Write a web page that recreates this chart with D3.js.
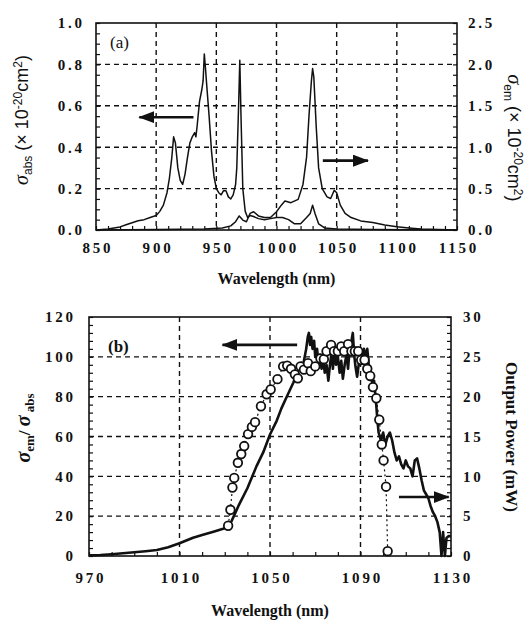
<!DOCTYPE html>
<html lang="en">
<head>
<meta charset="utf-8">
<title>Yb cross sections and output power</title>
<style>
  body { margin: 0; background: #fff; }
  svg { display: block; }
  .tick text { font-family: "Liberation Serif", serif; font-weight: bold; font-size: 15px; letter-spacing: 2.8px; fill: #111; }
  .grid line { stroke: #111; stroke-width: 1.4; stroke-dasharray: 5,4; }
</style>
</head>
<body>
<script src="https://cdn.jsdelivr.net/npm/d3@7"></script>
<script>
// ---- panel (a) data: absorption (left axis) and emission (right axis) cross sections
const absWave = [850, 860, 870, 875, 880, 885, 890, 895, 900, 903, 906, 909, 911, 913, 914.5, 916, 918, 920, 922, 924, 926, 928, 930, 932, 933, 934, 936, 938, 939, 940, 941, 942, 944, 946, 948, 950, 952, 954, 956, 958, 960, 962, 964, 966, 967, 968.5, 969.5, 970.5, 972, 974, 976, 978, 981, 985, 990, 995, 1000, 1005, 1010, 1015, 1020, 1025, 1028, 1030, 1032, 1035, 1040, 1050, 1080, 1150];
const absVal  = [0, 0.005, 0.015, 0.025, 0.035, 0.045, 0.05, 0.06, 0.07, 0.09, 0.12, 0.18, 0.25, 0.35, 0.45, 0.42, 0.3, 0.24, 0.22, 0.27, 0.35, 0.42, 0.45, 0.47, 0.45, 0.5, 0.62, 0.68, 0.72, 0.85, 0.78, 0.7, 0.55, 0.38, 0.26, 0.2, 0.18, 0.17, 0.19, 0.19, 0.16, 0.15, 0.17, 0.22, 0.3, 0.6, 0.82, 0.55, 0.2, 0.09, 0.06, 0.07, 0.065, 0.055, 0.05, 0.055, 0.06, 0.06, 0.05, 0.03, 0.03, 0.06, 0.08, 0.12, 0.08, 0.03, 0.01, 0.005, 0.002, 0];
const emWave = [850, 900, 940, 955, 962, 966, 969, 972, 975, 978, 981, 985, 990, 995, 1000, 1004, 1007, 1012, 1018, 1022, 1025, 1027, 1029, 1030, 1031, 1033, 1035, 1038, 1042, 1045, 1048, 1050, 1053, 1057, 1062, 1070, 1080, 1090, 1100, 1110, 1120, 1150];
const emVal  = [0, 0.005, 0.012, 0.025, 0.05, 0.1, 0.17, 0.12, 0.1, 0.2, 0.22, 0.17, 0.15, 0.15, 0.22, 0.3, 0.35, 0.33, 0.37, 0.55, 0.88, 1.38, 1.8, 1.95, 1.85, 1.25, 0.75, 0.5, 0.4, 0.38, 0.48, 0.45, 0.3, 0.2, 0.15, 0.11, 0.09, 0.06, 0.04, 0.025, 0.012, 0];

// ---- panel (b) data: cross-section ratio (left axis) and output power (right axis)
const ratioWave = [970, 975, 980, 985, 990, 995, 1000, 1005, 1010, 1013, 1016, 1020, 1025, 1030, 1031.5, 1033, 1036, 1040, 1044, 1047, 1050, 1053, 1055, 1057.4, 1060.3, 1061, 1062, 1063, 1064, 1064.5, 1065, 1066, 1066.7, 1067.2, 1067.7, 1068.2, 1068.8, 1069.5, 1070, 1070.8, 1071.5, 1072, 1072.8, 1073.5, 1074.2, 1075, 1075.8, 1076.5, 1077.2, 1077.8, 1078.5, 1079.2, 1080, 1080.8, 1081.5, 1082.2, 1083, 1083.8, 1084.5, 1085.2, 1086, 1086.6, 1087.2, 1087.8, 1088.5, 1089.2, 1090, 1090.8, 1091.5, 1092.3, 1093, 1093.8, 1094.5, 1095.3, 1096, 1096.8, 1097.5, 1098, 1099, 1100, 1101, 1102, 1103, 1104, 1105, 1106, 1107, 1108, 1109, 1110, 1111, 1112, 1113, 1114, 1115, 1116, 1117, 1118, 1119, 1120, 1121, 1122, 1123, 1124, 1125, 1125.8, 1126.5, 1127.3, 1128, 1129, 1130];
const ratioVal  = [0.3, 0.5, 0.9, 1.4, 1.9, 2.4, 3.0, 4.4, 6.4, 7.8, 9.2, 10.5, 12.2, 13.9, 14.5, 17.5, 25, 34, 45, 52, 61, 68, 74, 80, 87, 89, 92, 95, 97, 93, 98, 104, 110, 112, 106, 110, 104, 108, 100, 104, 96, 101, 94, 99, 92, 96, 88, 96, 102, 94, 103, 96, 100, 92, 98, 89, 96, 101, 94, 104, 108, 112, 101, 95, 90, 96, 102, 98, 104, 100, 104, 94, 92, 86, 88, 78, 68, 62, 58, 62, 56, 60, 62, 58, 52, 48, 50, 46, 44, 48, 45, 44, 40, 48, 49, 44, 38, 33, 31, 29, 25, 22, 20, 17, 12, 0, 12, 0, 9, 10, 10];
const powerWave = [1031.5, 1032.5, 1033.4, 1034.2, 1035.8, 1037.3, 1038.6, 1040.3, 1042.0, 1043.4, 1046.0, 1048.5, 1050.3, 1053.3, 1055.8, 1057.6, 1059.3, 1061.0, 1062.3, 1063.5, 1065.0, 1066.8, 1068.0, 1070.0, 1072.3, 1073.8, 1075.0, 1077.0, 1078.3, 1080.0, 1081.5, 1082.8, 1084.5, 1086.0, 1087.5, 1089.0, 1090.3, 1091.8, 1093.0, 1094.3, 1095.5, 1097.0, 1098.3, 1099.4, 1100.2, 1101.3, 1102.0];
const powerVal  = [3.8, 5.8, 8.6, 9.8, 11.7, 12.8, 13.8, 15.3, 16.2, 16.8, 18.8, 20.3, 20.9, 22.2, 23.8, 23.9, 23.5, 22.8, 22.3, 23.8, 23.4, 24.2, 23.2, 23.8, 24.8, 24.7, 25.7, 26.5, 25.7, 25.7, 26.3, 25.7, 26.6, 25.7, 25.7, 25.7, 24.6, 24.6, 23.5, 22.6, 21.2, 19.8, 17.1, 14.0, 12.0, 8.7, 0.6];

// ---- tick labels
const topXTicks  = [850, 900, 950, 1000, 1050, 1100, 1150];
const absTicks   = [0, 0.2, 0.4, 0.6, 0.8, 1.0];
const emTicks    = [0, 0.5, 1.0, 1.5, 2.0, 2.5];
const botXTicks  = [970, 1010, 1050, 1090, 1130];
const ratioTicks = [0, 20, 40, 60, 80, 100, 120];
const powerTicks = [0, 5, 10, 15, 20, 25, 30];

const W = 528, H = 621
const svg = d3.select("body").append("svg").attr("width", W).attr("height", H)

svg.append("defs").append("marker")
  .attr("id", "head").attr("viewBox", "0 0 16 12")
  .attr("refX", 15).attr("refY", 6)
  .attr("markerWidth", 16).attr("markerHeight", 12)
  .attr("markerUnits", "userSpaceOnUse").attr("orient", "auto")
  .append("path").attr("d", "M0,0 L16,6 L0,12 Z").attr("fill", "#111")

const range = (a, b, s) => d3.range(a, b + s / 2, s)

function panel(o) {
  const g = svg.append("g")
  const [x0, x1, y0, y1] = [o.x.range()[0], o.x.range()[1], o.yl.range()[1], o.yl.range()[0]]

  // dashed grid
  const grid = g.append("g").attr("class", "grid")
  grid.selectAll(".v").data(o.xTicks.slice(1, -1)).enter().append("line")
    .attr("x1", d => o.x(d)).attr("x2", d => o.x(d)).attr("y1", y0).attr("y2", y1)
  grid.selectAll(".h").data(o.ylTicks.slice(1, -1)).enter().append("line")
    .attr("x1", x0).attr("x2", x1).attr("y1", d => o.yl(d)).attr("y2", d => o.yl(d))

  // minor inward ticks
  const minor = (axis, scale, vals, tr) => g.append("g").attr("transform", tr)
    .call(axis(scale).tickValues(vals).tickSize(-4).tickFormat(""))
    .call(s => s.select(".domain").remove())
    .call(s => s.selectAll("line").attr("stroke", "#111").attr("stroke-width", 1.2))
  minor(d3.axisBottom, o.x, o.xMinor, `translate(0,${y1})`)
  minor(d3.axisLeft, o.yl, o.ylMinor, `translate(${x0},0)`)
  minor(d3.axisRight, o.yr, o.yrMinor, `translate(${x1},0)`)

  // labelled axes
  const major = (axis, scale, vals, fmt, pad, tr) => g.append("g").attr("transform", tr)
    .call(axis(scale).tickValues(vals).tickFormat(fmt).tickSize(0).tickPadding(pad))
    .call(s => s.select(".domain").remove())
  major(d3.axisBottom, o.x, o.xTicks, d3.format("d"), o.xPad, `translate(1.4,${y1})`)
  major(d3.axisLeft, o.yl, o.ylTicks, o.ylFmt, o.ylPad, `translate(${x0 + 2.8},0)`)
  major(d3.axisRight, o.yr, o.yrTicks, o.yrFmt, o.yrPad, `translate(${x1},0)`)

  g.append("rect").attr("x", x0).attr("y", y0).attr("width", x1 - x0).attr("height", y1 - y0)
    .attr("fill", "none").attr("stroke", "#111").attr("stroke-width", 1.6)

  g.append("text").attr("x", (x0 + x1) / 2).attr("y", o.titleY).attr("text-anchor", "middle")
    .attr("font-family", "Liberation Serif, serif").attr("font-weight", "bold").attr("font-size", 16)
    .attr("fill", "#111").text("Wavelength (nm)")
  return g
}

function arrow(g, xa, ya, xb, yb) {
  g.append("line").attr("x1", xa).attr("y1", ya).attr("x2", xb).attr("y2", yb)
    .attr("stroke", "#111").attr("stroke-width", 2.6).attr("marker-end", "url(#head)")
}

function rich(g, x, y, rot, parts, base) {
  const t = g.append("text").attr("transform", `translate(${x},${y}) rotate(${rot})`)
    .attr("text-anchor", "middle").attr("fill", "#111")
    .attr("font-family", base.family).attr("font-size", base.size).attr("font-weight", base.weight || "normal")
  parts.forEach(p => {
    const s = t.append("tspan").text(p.t)
    if (p.dy) s.attr("dy", p.dy)
    if (p.size) s.attr("font-size", p.size)
    if (p.italic) s.attr("font-style", "italic").attr("font-family", "Liberation Serif, serif")
  })
}

// ================= panel (a)
const xa = d3.scaleLinear().domain([850, 1150]).range([96, 457])
const ya = d3.scaleLinear().domain([0, 1]).range([230, 23])
const ya2 = d3.scaleLinear().domain([0, 2.5]).range([230, 23])

const ga = panel({
  x: xa, yl: ya, yr: ya2,
  xTicks: topXTicks, ylTicks: absTicks, yrTicks: emTicks,
  xMinor: range(850, 1150, 10), ylMinor: range(0, 1, 0.05), yrMinor: range(0, 2.5, 0.125),
  ylFmt: d3.format(".1f"), yrFmt: d3.format(".1f"),
  xPad: 12, ylPad: 14, yrPad: 11, titleY: 284
})

const lineA = (x, y) => d3.line().x(d => x(d[0])).y(d => y(d[1]))
ga.append("path").datum(d3.zip(absWave, absVal)).attr("d", lineA(xa, ya))
  .attr("fill", "none").attr("stroke", "#111").attr("stroke-width", 1.5).attr("stroke-linejoin", "round")
ga.append("path").datum(d3.zip(emWave, emVal)).attr("d", lineA(xa, ya2))
  .attr("fill", "none").attr("stroke", "#111").attr("stroke-width", 1.5).attr("stroke-linejoin", "round")

arrow(ga, xa(931), ya(0.545), xa(886), ya(0.545))
arrow(ga, xa(1038.5), ya(0.335), xa(1076), ya(0.335))

ga.append("text").attr("x", 110).attr("y", 48).attr("font-family", "Liberation Serif, serif")
  .attr("font-size", 17).attr("fill", "#111").text("(a)")

rich(ga, 28, 120, -90, [
  { t: "σ", italic: true, size: 20 },
  { t: "abs", size: 12, dy: 4 },
  { t: " (× 10", dy: -4 },
  { t: "-20", size: 12, dy: -6 },
  { t: "cm", dy: 6 },
  { t: "2", size: 12, dy: -6 },
  { t: ")", dy: 6 }
], { family: "Liberation Sans, sans-serif", size: 18 })

rich(ga, 508, 138, 90, [
  { t: "σ", italic: true, size: 20 },
  { t: "em", size: 12, dy: 4 },
  { t: " (× 10", dy: -4 },
  { t: "-20", size: 12, dy: -6 },
  { t: "cm", dy: 6 },
  { t: "2", size: 12, dy: -6 },
  { t: ")", dy: 6 }
], { family: "Liberation Sans, sans-serif", size: 18 })

// ================= panel (b)
const xb = d3.scaleLinear().domain([970, 1130]).range([89, 451])
const yb = d3.scaleLinear().domain([0, 120]).range([556, 317])
const yb2 = d3.scaleLinear().domain([0, 30]).range([556, 317])

const gb = panel({
  x: xb, yl: yb, yr: yb2,
  xTicks: botXTicks, ylTicks: ratioTicks, yrTicks: powerTicks,
  xMinor: range(970, 1130, 10), ylMinor: range(0, 120, 4), yrMinor: range(0, 30, 1),
  ylFmt: d3.format("d"), yrFmt: d3.format("d"),
  xPad: 16, ylPad: 16, yrPad: 12, titleY: 616
})

gb.append("path").datum(d3.zip(ratioWave, ratioVal)).attr("d", lineA(xb, yb))
  .attr("fill", "none").attr("stroke", "#111").attr("stroke-width", 2.6).attr("stroke-linejoin", "round")

const pw = d3.zip(powerWave, powerVal)
gb.append("path").datum(pw).attr("d", lineA(xb, yb2))
  .attr("fill", "none").attr("stroke", "#111").attr("stroke-width", 1.2).attr("stroke-dasharray", "2,3")
gb.selectAll("circle").data(pw).enter().append("circle")
  .attr("cx", d => xb(d[0])).attr("cy", d => yb2(d[1])).attr("r", 4.3)
  .attr("fill", "#fff").attr("stroke", "#111").attr("stroke-width", 1.8)

arrow(gb, xb(1062), yb(106), xb(1029), yb(106))
arrow(gb, xb(1107), yb2(7.4), xb(1129), yb2(7.4))

gb.append("text").attr("x", 108).attr("y", 352).attr("font-family", "Liberation Serif, serif")
  .attr("font-weight", "bold").attr("font-size", 17).attr("fill", "#111").text("(b)")

rich(gb, 30, 428, -90, [
  { t: "σ", italic: true, size: 20 },
  { t: "em", size: 13, dy: 4 },
  { t: "/ ", dy: -4 },
  { t: "σ", italic: true, size: 20 },
  { t: " abs", size: 13, dy: 4 }
], { family: "Liberation Serif, serif", size: 17, weight: "bold" })

rich(gb, 506, 437, 90, [{ t: "Output Power (mW)" }],
  { family: "Liberation Serif, serif", size: 17, weight: "bold" })
</script>
</body>
</html>
